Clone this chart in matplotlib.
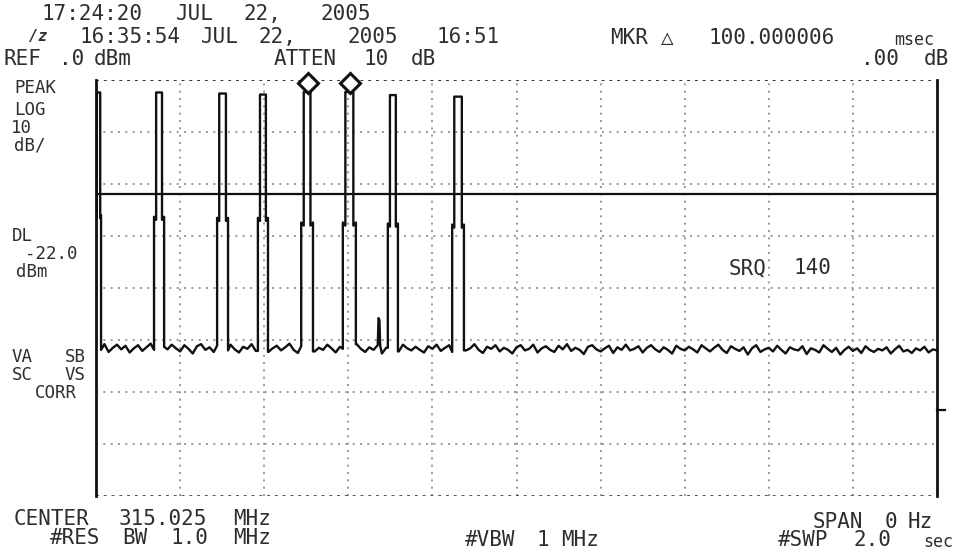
import numpy as np
import matplotlib.pyplot as plt

# analyzer settings
sweep_ms = 2000          # SWP 2.0 sec, SPAN 0 Hz
ref_level = 0.0          # REF .0 dBm
db_per_div = 10          # LOG 10 dB/
display_line = -22.0     # DL -22.0 dBm

# burst edges (ms), top levels and shoulder levels (dBm)
pulse_start = [0, 138, 288, 385, 488, 587, 694, 847]
pulse_stop = [12, 162, 314, 409, 516, 618, 718, 875]
pulse_peak = [-2.4, -2.4, -2.6, -2.8, -2.3, -2.3, -2.9, -3.2]
pulse_shoulder = [-26.0, -26.3, -26.5, -26.5, -27.4, -27.4, -27.6, -27.8]
pulse_inset = [2, 5, 5, 5, 6, 6, 5, 5]

# small spur between bursts 6 and 7
spur_t = [670, 672, 674, 676]
spur_level = [-51.0, -45.8, -46.2, -51.2]

# noise floor, one reading every 10 ms
noise_level = [
    -51.2, -51.9, -50.8, -52.3, -51.5, -50.9, -51.8, -51.1, -52.4, -51.6,
    -51.0, -52.1, -51.4, -50.7, -51.9, -52.5, -51.3, -51.8, -50.9, -51.6,
    -52.2, -51.0, -51.7, -52.6, -51.2, -50.8, -51.9, -51.4, -52.3, -51.1,
    -51.6, -52.0, -50.9, -51.8, -52.4, -51.3, -51.7, -50.8, -52.1, -51.5,
    -51.0, -52.3, -51.6, -51.1, -52.0, -51.4, -50.7, -51.9, -52.5, -51.2,
    -51.8, -51.0, -52.2, -51.5, -51.9, -50.9, -51.6, -52.4, -51.3, -51.7,
    -52.0, -51.2, -50.8, -51.7, -52.3, -51.4, -51.9, -51.0, -52.6, -51.5,
    -51.1, -51.8, -52.2, -50.9, -51.6, -52.0, -51.3, -51.9, -52.4, -51.2,
    -51.7, -50.9, -52.1, -51.5, -51.0, -52.3, -51.8, -51.2, -52.0, -51.6,
    -50.8, -51.9, -52.5, -51.3, -51.7, -51.0, -52.2, -51.5, -51.9, -52.6,
    -51.4, -51.0, -52.0, -51.7, -50.9, -52.4, -51.6, -51.2, -51.9, -52.3,
    -51.1, -51.8, -50.8, -52.1, -51.5, -51.9, -52.7, -51.3, -51.0, -51.8,
    -52.2, -51.6, -51.1, -52.5, -51.4, -51.9, -50.9, -52.0, -51.7, -51.2,
    -52.4, -51.5, -51.0, -51.8, -52.3, -51.4, -51.9, -52.6, -51.1, -51.7,
    -52.0, -51.3, -51.8, -52.4, -51.0, -51.6, -52.2, -51.5, -50.9, -51.9,
    -52.5, -51.2, -51.7, -52.1, -51.4, -52.8, -51.6, -51.0, -52.3, -51.8,
    -51.5, -52.2, -51.1, -51.9, -52.6, -51.4, -51.8, -52.0, -51.2, -52.7,
    -51.6, -51.9, -52.4, -51.0, -51.7, -52.3, -51.5, -52.8, -51.9, -51.3,
    -52.1, -51.6, -52.5, -51.2, -51.9, -52.3, -51.7, -52.0, -51.4, -52.6,
    -51.8, -51.1, -52.2, -51.9, -52.5, -51.6, -52.0, -51.3, -52.4, -51.8,
    -52.0,
]
noise_step = 10

# marker positions (MKR delta 100 ms)
marker_t = [504, 604]

# printout text: (string, x px, y px)
header_text = [
    ("17:24:20", 92, 14), ("JUL", 195, 14), ("22,", 262, 14), ("2005", 346, 14),
    ("16:35:54", 130, 37), ("JUL", 220, 37), ("22,", 277, 37), ("2005", 373, 37),
    ("16:51", 468, 37),
    ("MKR", 629, 38), ("\u25b3", 667, 38), ("100.000006", 772, 38),
    ("REF", 22, 59), (".0", 72, 59), ("dBm", 113, 59),
    ("ATTEN", 305, 59), ("10", 376, 59), ("dB", 423, 59),
    (".00", 880, 59), ("dB", 936, 59),
]
side_text = [
    ("PEAK", 35, 88), ("LOG", 30, 110), ("10", 21, 128), ("dB/", 30, 146),
    ("DL", 22, 236), ("-22.0", 51, 254), ("dBm", 32, 272),
    ("VA", 22, 357), ("SB", 75, 357), ("SC", 22, 375), ("VS", 75, 375),
    ("CORR", 56, 393),
]
graticule_text = [("SRQ", 748, 268), ("140", 812, 268)]
footer_text = [
    ("CENTER", 52, 519), ("315.025", 163, 519), ("MHz", 252, 519),
    ("#RES", 75, 538), ("BW", 135, 538), ("1.0", 189, 538), ("MHz", 252, 538),
    ("#VBW", 490, 540), ("1", 543, 540), ("MHz", 580, 540),
    ("SPAN", 838, 522), ("0", 891, 522), ("Hz", 920, 522),
    ("#SWP", 803, 540), ("2.0", 872, 540),
]
small_text = [("msec", 914, 40), ("sec", 938, 542)]


def inside(t, windows):
    for a, b in windows:
        if a <= t <= b:
            return True
    return False


# assemble the trace: noise readings outside the bursts + burst outlines
windows = list(zip(pulse_start, pulse_stop)) + [(spur_t[0], spur_t[-1])]
pts = []
for i, v in enumerate(noise_level):
    t = i * noise_step
    if not inside(t, windows):
        pts.append((t, v))

for a, b, pk, sh, d in zip(pulse_start, pulse_stop, pulse_peak,
                           pulse_shoulder, pulse_inset):
    fa = noise_level[min(round(a / noise_step), len(noise_level) - 1)]
    fb = noise_level[min(round(b / noise_step), len(noise_level) - 1)]
    pts += [(a, fa), (a, sh), (a + d, sh - 0.6), (a + d, pk),
            (b - d, pk), (b - d, sh - 0.6), (b, sh), (b, fb)]
pts += list(zip(spur_t, spur_level))
pts.sort(key=lambda p: p[0])
trace_t = [p[0] for p in pts]
trace_v = [p[1] for p in pts]

W, H = 958, 556
fig = plt.figure(figsize=(W / 100, H / 100), dpi=100)
fig.patch.set_facecolor("white")

# text layer in pixel coordinates
tx = fig.add_axes([0, 0, 1, 1])
tx.set_xlim(0, W)
tx.set_ylim(H, 0)
tx.axis("off")

ink = "#2e2e2e"
mono = "DejaVu Sans Mono"
for s, x, y in header_text + graticule_text + footer_text:
    tx.text(x, y, s, ha="center", va="center", family=mono,
            fontsize=15, color=ink)
for s, x, y in side_text:
    tx.text(x, y, s, ha="center", va="center", family=mono,
            fontsize=12.5, color=ink)
for s, x, y in small_text:
    tx.text(x, y, s, ha="center", va="center", family=mono,
            fontsize=12, color=ink)
tx.text(38, 36, "/z", ha="center", va="center", family=mono,
        fontsize=11, style="italic", fontweight="bold", color=ink)

# graticule
left, right, top, bottom = 96, 937, 80, 496
ax = fig.add_axes([left / W, 1 - bottom / H, (right - left) / W, (bottom - top) / H])
ax.set_facecolor("none")
ax.set_xlim(0, sweep_ms)
ax.set_ylim(ref_level - 8 * db_per_div, ref_level)
ax.set_xticks([])
ax.set_yticks([])
for side in ["top", "bottom"]:
    ax.spines[side].set_visible(False)
for side in ["left", "right"]:
    ax.spines[side].set_linewidth(2)
    ax.spines[side].set_color("#111111")

dots = (0, (1.2, 3.2))
for k in range(1, 10):
    ax.axvline(k * sweep_ms / 10, color="#8a8a8a", lw=1.2, ls=dots, zorder=1)
for k in range(1, 8):
    ax.axhline(ref_level - k * db_per_div, color="#8a8a8a", lw=1.2, ls=dots, zorder=1)
ax.axhline(ref_level, color="#333333", lw=1.4, ls=(0, (1.5, 2.5)), zorder=1)
ax.axhline(ref_level - 8 * db_per_div, color="#555555", lw=1.4, ls=(0, (1.5, 2.5)), zorder=1)

# display line and trace
ax.axhline(display_line, color="#111111", lw=1.6, zorder=2)
ax.plot(trace_t, trace_v, color="#111111", lw=1.7, zorder=3)

# delta markers
ax.plot(marker_t, [-0.6] * len(marker_t), ls="none", marker="D", ms=10,
        mfc="white", mec="#111111", mew=2.2, clip_on=False, zorder=5)

# small tick on the right edge
ax.plot([sweep_ms, sweep_ms * 1.01], [-63.5, -63.5], color="#111111", lw=1.6,
        clip_on=False)

fig.savefig("out.png", dpi=100)
